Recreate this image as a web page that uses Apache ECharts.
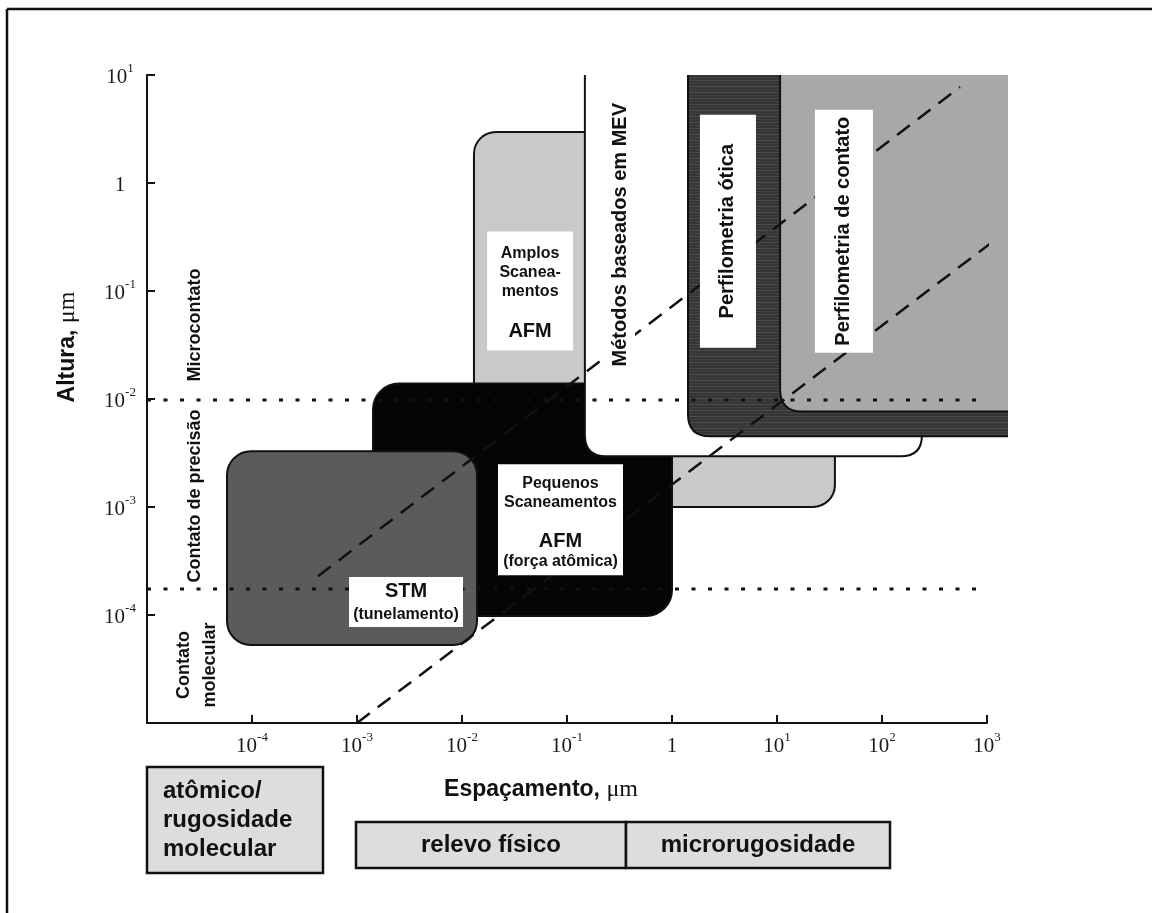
<!DOCTYPE html>
<html lang="pt">
<head>
<meta charset="UTF-8">
<title>Altura x Espaçamento</title>
<script src="https://cdn.jsdelivr.net/npm/echarts@6.0.0/dist/echarts.min.js"></script>
<style>
    html, body { margin: 0; padding: 0; background: #fff; }
    #chart { width: 1152px; height: 913px; }
</style>
</head>
<body>
<div id="chart"></div>
<script>
    // regiões de cada técnica (µm): espaçamento no x, altura no y
    var regionNames = ['Amplos AFM', 'Pequenos AFM', 'STM', 'MEV', 'Perfilometria ótica', 'Perfilometria de contato'];
    var regionXMin = [0.0130, 0.00142, 5.78e-5, 0.148, 1.42, 10.7];
    var regionXMax = [35.6, 1.0, 0.0139, 240, 1585, 1585];
    var regionYMin = [0.001, 9.8e-5, 5.28e-5, 0.00295, 0.00451, 0.00767];
    var regionYMax = [2.97, 0.0139, 0.00328, 10, 10, 10];

    // linhas tracejadas
    var dashUpper = [[4.25e-4, 2.29e-4], [553, 7.74]];
    var dashLower = [[1e-3, 1e-5], [1274, 0.312]];
    // linhas pontilhadas (limites de contato)
    var dotLevels = [0.0098, 1.74e-4];
    var dotRange = [1e-5, 1000];

    // centro dos rótulos (µm)
    var labelX = [0.0445, 0.0867, 0.00293, 0.32, 3.41, 43.4];
    var labelY = [0.0998, 7.64e-4, 1.32e-4, 0.332, 0.358, 0.358];

    var SANS = '"Liberation Sans", Arial, sans-serif';
    var SERIF = '"Liberation Serif", "Times New Roman", serif';

    // textura listrada da perfilometria ótica
    var stripe = document.createElement('canvas');
    stripe.width = 4; stripe.height = 6;
    var sctx = stripe.getContext('2d');
    sctx.fillStyle = '#363636'; sctx.fillRect(0, 0, 4, 6);
    sctx.fillStyle = '#4c4c4c'; sctx.fillRect(0, 2, 4, 1);
    sctx.fillStyle = '#404040'; sctx.fillRect(0, 5, 4, 1);

    var regionStyle = [
        {kind: 'box', fill: '#c9c9c9', r: 22},
        {kind: 'box', fill: '#050505', r: 26},
        {kind: 'box', fill: '#5b5b5b', r: 24},
        {kind: 'u', fill: '#ffffff', r: 21},
        {kind: 'l', fill: {image: stripe, repeat: 'repeat'}, r: 22},
        {kind: 'l', fill: '#a8a8a8', r: 22}
    ];

    var labelStyle = [
        {w: 86, h: 119, dy: 2, rot: 0, text: '{s|Amplos}\n{s|Scanea-}\n{s|mentos}\n{sp|}\n{b|AFM}'},
        {w: 125, h: 111, dy: 3, rot: 0, text: '{s|Pequenos}\n{s|Scaneamentos}\n{sp2|}\n{b|AFM}\n{s|(força atômica)}'},
        {w: 114, h: 50, dy: 2, rot: 0, text: '{b|STM}\n{t|(tunelamento)}'},
        {w: 30, h: 262, dy: 0, rot: 1, text: '{r|Métodos baseados em MEV}'},
        {w: 56, h: 233, dy: 0, rot: 1, text: '{r|Perfilometria ótica}'},
        {w: 58, h: 243, dy: 0, rot: 1, text: '{r|Perfilometria de contato}'}
    ];

    var labelRich = {
        s: {fontFamily: SANS, fontWeight: 'bold', fontSize: 16, lineHeight: 19, fill: '#111'},
        sp: {fontSize: 4, lineHeight: 19},
        sp2: {fontSize: 4, lineHeight: 18},
        b: {fontFamily: SANS, fontWeight: 'bold', fontSize: 20, lineHeight: 22, fill: '#111'},
        t: {fontFamily: SANS, fontWeight: 'bold', fontSize: 16, lineHeight: 24, fill: '#111'},
        r: {fontFamily: SANS, fontWeight: 'bold', fontSize: 20, lineHeight: 24, fill: '#111'}
    };

    var regionData = [];
    for (var i = 0; i < regionNames.length; i++) {
        regionData.push({name: regionNames[i], value: [regionXMin[i], regionXMax[i], regionYMin[i], regionYMax[i]]});
    }
    var labelData = [];
    for (var j = 0; j < labelX.length; j++) {
        labelData.push([labelX[j], labelY[j]]);
    }

    function renderRegion(params, api) {
        var st = regionStyle[params.dataIndex];
        var p0 = api.coord([api.value(0), api.value(3)]);
        var p1 = api.coord([api.value(1), api.value(2)]);
        var x0 = p0[0], y0 = p0[1], x1 = p1[0], y1 = p1[1], r = st.r;
        if (st.kind === 'box') {
            return {
                type: 'rect',
                shape: {x: x0, y: y0, width: x1 - x0, height: y1 - y0, r: r},
                style: {fill: st.fill, stroke: '#111', lineWidth: 2}
            };
        }
        var edge, fill;
        if (st.kind === 'u') {
            edge = 'M' + x0 + ' ' + y0 + ' L' + x0 + ' ' + (y1 - r) + ' Q' + x0 + ' ' + y1 + ' ' + (x0 + r) + ' ' + y1 +
                ' L' + (x1 - r) + ' ' + y1 + ' Q' + x1 + ' ' + y1 + ' ' + x1 + ' ' + (y1 - r) + ' L' + x1 + ' ' + y0;
            fill = edge + ' Z';
        } else {
            edge = 'M' + x0 + ' ' + y0 + ' L' + x0 + ' ' + (y1 - r) + ' Q' + x0 + ' ' + y1 + ' ' + (x0 + r) + ' ' + y1 +
                ' L' + x1 + ' ' + y1;
            fill = edge + ' L' + x1 + ' ' + y0 + ' Z';
        }
        return {
            type: 'group',
            children: [
                {type: 'path', shape: {pathData: fill}, style: {fill: st.fill, stroke: null}},
                {type: 'path', shape: {pathData: edge}, style: {fill: null, stroke: '#111', lineWidth: 2}}
            ]
        };
    }

    function renderLabel(params, api) {
        var st = labelStyle[params.dataIndex];
        var c = api.coord([api.value(0), api.value(1)]);
        return {
            type: 'group',
            children: [
                {type: 'rect', shape: {x: c[0] - st.w / 2, y: c[1] - st.h / 2, width: st.w, height: st.h}, style: {fill: '#fff'}},
                {
                    type: 'text', x: c[0], y: c[1] + st.dy, rotation: st.rot ? Math.PI / 2 : 0,
                    style: {text: st.text, rich: labelRich, align: 'center', verticalAlign: 'middle', fill: '#111'}
                }
            ]
        };
    }

    function tickLabel(v) {
        var e = Math.round(Math.log(v) / Math.LN10);
        if (e === 0) return '{b|1}';
        return '{b|10}{e|' + e + '}';
    }

    var tickRich = {
        b: {fontFamily: SERIF, fontSize: 21, lineHeight: 26, verticalAlign: 'bottom', color: '#1a1a1a'},
        e: {fontFamily: SERIF, fontSize: 13, lineHeight: 12, verticalAlign: 'top', color: '#1a1a1a'}
    };

    var nameRich = {
        b: {fontFamily: SANS, fontWeight: 'bold', fontSize: 23, fill: '#111'},
        u: {fontFamily: SERIF, fontSize: 24, fill: '#111'}
    };

    var axisCommon = {
        type: 'log', logBase: 10, interval: 1,
        axisLine: {onZero: false, lineStyle: {color: '#111', width: 2}},
        axisTick: {inside: true, length: 8, lineStyle: {color: '#111', width: 2}},
        splitLine: {show: false},
        minorTick: {show: false}
    };

    var chart = echarts.init(document.getElementById('chart'));
    chart.setOption({
        animation: false,
        backgroundColor: '#fff',
        grid: {left: 147, right: 165, top: 75, bottom: 190, outerBoundsMode: 'none'},
        xAxis: Object.assign({}, axisCommon, {
            min: 1e-5, max: 1000,
            axisLabel: {showMinLabel: false, margin: 8, formatter: tickLabel, rich: tickRich}
        }),
        yAxis: Object.assign({}, axisCommon, {
            min: 1e-5, max: 10,
            axisLabel: {showMinLabel: false, margin: 27, align: 'center', formatter: tickLabel, rich: tickRich}
        }),
        series: [
            {
                type: 'custom', name: 'regioes', z: 2, clip: false,
                renderItem: renderRegion,
                encode: {x: [0, 1], y: [2, 3]},
                data: regionData
            },
            {
                type: 'line', name: 'tracejada sup', z: 3, clip: false, symbol: 'none',
                lineStyle: {color: '#111', width: 2.5, type: [16, 10]},
                data: dashUpper
            },
            {
                type: 'line', name: 'tracejada inf', z: 3, clip: false, symbol: 'none',
                lineStyle: {color: '#111', width: 2.5, type: [16, 10]},
                data: dashLower
            },
            {
                type: 'line', name: 'microcontato', z: 3, clip: false, symbol: 'none',
                lineStyle: {color: '#111', width: 3, type: [4, 12.5]},
                data: [[dotRange[0], dotLevels[0]], [dotRange[1], dotLevels[0]]]
            },
            {
                type: 'line', name: 'contato molecular', z: 3, clip: false, symbol: 'none',
                lineStyle: {color: '#111', width: 3, type: [4, 12.5]},
                data: [[dotRange[0], dotLevels[1]], [dotRange[1], dotLevels[1]]]
            },
            {
                type: 'custom', name: 'rotulos', z: 4, clip: false,
                renderItem: renderLabel,
                data: labelData
            }
        ],
        graphic: [
            {type: 'line', shape: {x1: 7, y1: 9, x2: 1152, y2: 9}, style: {stroke: '#111', lineWidth: 2.5}},
            {type: 'line', shape: {x1: 7, y1: 9, x2: 7, y2: 913}, style: {stroke: '#111', lineWidth: 2.5}},
            {
                type: 'text', x: 68, y: 347, rotation: Math.PI / 2,
                style: {text: '{b|Altura,} {u|μm}', rich: nameRich, align: 'center', verticalAlign: 'middle', fontSize: 23}
            },
            {
                type: 'text', x: 541, y: 790,
                style: {text: '{b|Espaçamento,} {u|μm}', rich: nameRich, align: 'center', verticalAlign: 'middle', fontSize: 23}
            },
            {
                type: 'text', x: 195, y: 325, rotation: Math.PI / 2,
                style: {text: 'Microcontato', fontFamily: SANS, fontWeight: 'bold', fontSize: 18, fill: '#111', align: 'center', verticalAlign: 'middle'}
            },
            {
                type: 'text', x: 195, y: 496, rotation: Math.PI / 2,
                style: {text: 'Contato de precisão', fontFamily: SANS, fontWeight: 'bold', fontSize: 18, fill: '#111', align: 'center', verticalAlign: 'middle'}
            },
            {
                type: 'text', x: 197, y: 665, rotation: Math.PI / 2,
                style: {text: 'Contato\nmolecular', fontFamily: SANS, fontWeight: 'bold', fontSize: 18, lineHeight: 26, fill: '#111', align: 'center', verticalAlign: 'middle'}
            },
            {type: 'rect', shape: {x: 147, y: 767, width: 176, height: 106}, style: {fill: '#dddddd', stroke: '#111', lineWidth: 2.5}},
            {
                type: 'text', x: 163, y: 820,
                style: {text: 'atômico/\nrugosidade\nmolecular', fontFamily: SANS, fontWeight: 'bold', fontSize: 24, lineHeight: 29, fill: '#111', align: 'left', verticalAlign: 'middle'}
            },
            {type: 'rect', shape: {x: 356, y: 822, width: 270, height: 46}, style: {fill: '#dddddd', stroke: '#111', lineWidth: 2.5}},
            {type: 'rect', shape: {x: 626, y: 822, width: 264, height: 46}, style: {fill: '#dddddd', stroke: '#111', lineWidth: 2.5}},
            {
                type: 'text', x: 491, y: 845,
                style: {text: 'relevo físico', fontFamily: SANS, fontWeight: 'bold', fontSize: 24, fill: '#111', align: 'center', verticalAlign: 'middle'}
            },
            {
                type: 'text', x: 758, y: 845,
                style: {text: 'microrugosidade', fontFamily: SANS, fontWeight: 'bold', fontSize: 24, fill: '#111', align: 'center', verticalAlign: 'middle'}
            }
        ]
    });
</script>
</body>
</html>
